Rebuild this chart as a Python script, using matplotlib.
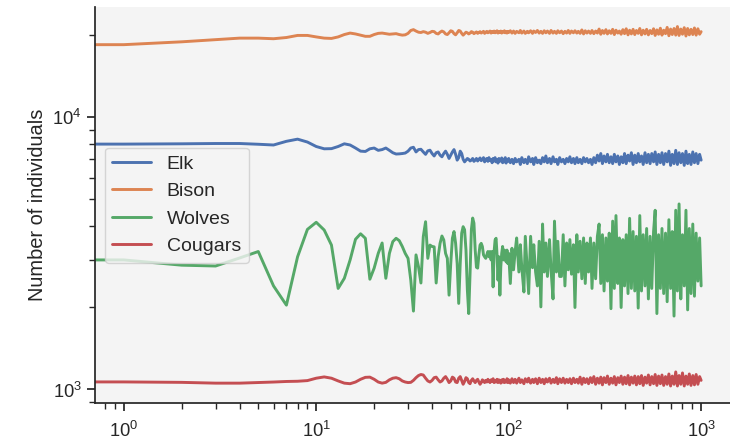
import matplotlib
matplotlib.use("Agg")
import matplotlib.pyplot as plt
import seaborn as sns
from matplotlib.ticker import NullFormatter

# time steps: every step up to 100, then sampled (the band is solid there anyway)
steps = list(range(101)) + [
    102, 104, 106, 108, 110, 113, 115, 117, 120, 122,
    125, 127, 130, 133, 135, 138, 141, 144, 147, 150,
    153, 156, 159, 163, 166, 170, 173, 177, 180, 184,
    188, 192, 196, 200, 204, 208, 212, 217, 221, 226,
    230, 235, 240, 245, 250, 255, 260, 266, 271, 277,
    283, 289, 295, 301, 307, 313, 320, 326, 333, 340,
    347, 354, 361, 369, 376, 384, 392, 400, 408, 417,
    425, 434, 443, 452, 461, 471, 480, 490, 500, 511,
    521, 532, 543, 554, 566, 577, 589, 601, 614, 626,
    639, 653, 666, 680, 694, 708, 723, 738, 753, 768,
    784, 800, 817, 834, 851, 868, 886, 905, 923, 942,
    962, 982, 1000,
]

elk = [
    7960, 7960, 7980, 8000, 8000, 7950, 7900, 8150, 8300, 8100,
    7800, 7650, 7660, 7800, 7980, 7900, 7700, 7500, 7480, 7650,
    7700, 7550, 7600, 7700, 7550, 7400, 7320, 7330, 7350, 7380,
    7500, 7700, 7750, 7450, 7600, 7620, 7450, 7300, 7520, 7560,
    7350, 7200, 7400, 7450, 7250, 7150, 7350, 7500, 7300, 7050,
    7250, 7450, 7600, 7300, 6950, 7100, 7500, 7350, 7000, 6850,
    6950, 7050, 7000, 6900, 6950, 7050, 6880, 6950, 7050, 6900,
    7000, 7080, 6920, 6980, 7100, 6850, 7000, 7050, 6880, 7100,
    6920, 7000, 6800, 7050, 6900, 7100, 6850, 7000, 6780, 7050,
    6880, 6950, 7080, 6800, 7000, 6850, 7100, 6780, 6950, 6880,
    7050,
] + [
    6800, 7000, 6750, 7050, 6850, 7000, 6700, 7100, 6800, 7000,
    6750, 7150, 6850, 7050, 6700, 7100, 6800, 6950, 6750, 7100,
    6850, 7200, 6800, 7050, 6750, 7150, 6850, 7000, 6700, 7100,
    6850, 7000, 6750, 7050, 6850, 7150, 6800, 7050, 6750, 7100,
    6800, 7000, 6750, 7100, 6850, 7050, 6800, 7000, 6700, 7100,
    6800, 7250, 6900, 7350, 6750, 7200, 6850, 7300, 6800, 7150,
    6750, 7300, 6850, 7200, 6700, 7150, 6800, 7350, 6750, 7250,
    6900, 7400, 6700, 7250, 6800, 7350, 6850, 7200, 6700, 7400,
    6800, 7300, 6750, 7350, 6850, 7450, 6700, 7300, 6800, 7400,
    6700, 7350, 6850, 7500, 6650, 7300, 6750, 7550, 6700, 7400,
    6800, 7350, 6650, 7500, 6750, 7300, 6700, 7450, 6800, 7350,
    6750, 7300, 6950,
]

bison = [
    18450, 18450, 18900, 19250, 19500, 19500, 19400, 19600, 19950, 19950,
    19700, 19500, 19450, 19700, 20100, 20350, 20200, 20000, 19800, 19800,
    20100, 20300, 20350, 20250, 20150, 20200, 20250, 20100, 20000, 20050,
    20300, 20800, 20950, 20700, 20500, 20450, 20600, 20500, 20300, 20450,
    20650, 20600, 20300, 20200, 20500, 20700, 20550, 20200, 20100, 20400,
    20750, 20650, 20250, 20050, 20400, 20800, 20700, 20300, 20000, 20250,
    20500, 20400, 20200, 20350, 20600, 20500, 20250, 20400, 20550, 20300,
    20450, 20600, 20350, 20500, 20650, 20300, 20500, 20650, 20400, 20550,
    20700, 20350, 20600, 20450, 20700, 20400, 20550, 20750, 20350, 20600,
    20450, 20700, 20350, 20600, 20500, 20750, 20400, 20600, 20350, 20650,
    20450,
] + [
    20750, 20350, 20700, 20300, 20650, 20400, 20800, 20350, 20700, 20300,
    20650, 20400, 20750, 20300, 20700, 20450, 20800, 20350, 20650, 20300,
    20750, 20400, 20700, 20300, 20800, 20350, 20650, 20300, 20750, 20400,
    20700, 20250, 20650, 20350, 20800, 20300, 20700, 20400, 20750, 20350,
    20650, 20300, 20900, 20200, 20750, 20350, 20700, 20300, 20800, 20250,
    20700, 20350, 21050, 20150, 20800, 20300, 20950, 20200, 20750, 20300,
    21000, 20100, 20850, 20350, 20700, 20150, 20950, 20250, 21100, 20050,
    20850, 20200, 21000, 20100, 20800, 20300, 21150, 20050, 20850, 20200,
    21000, 20050, 20800, 20250, 21100, 19950, 20900, 20150, 21200, 20000,
    20850, 20250, 21350, 19900, 21050, 20100, 21150, 20000, 21500, 19950,
    21050, 20150, 21300, 19850, 21150, 20050, 21000, 20100, 21250, 20000,
    21100, 20150, 20600,
]

wolves = [
    3000, 2990, 2860, 2840, 3040, 3210, 2400, 2040, 3070, 3870,
    4110, 3850, 3390, 2350, 2560, 2990, 3560, 3730, 3590, 2540,
    2790, 3160, 3450, 2560, 3160, 3490, 3590, 3520, 3350, 3160,
    3030, 2520, 1940, 3120, 2820, 2460, 3640, 4130, 3030, 3390,
    3350, 3340, 2460, 3070, 3440, 3660, 3540, 3160, 3030, 2220,
    2900, 3590, 3800, 3440, 2900, 2070, 2900, 3750, 3960, 3860,
    3250, 2320, 1900, 2670, 3860, 4260, 4080, 3250, 2810, 2790,
    3120, 3390, 3440, 3350, 3120, 3070, 3030, 3120, 3210, 3070,
    3210, 2990, 3210, 2380, 3210, 3540, 3590, 3120, 2520, 3070,
    2220, 2820, 3160, 3350, 2990, 3250, 3070, 2940, 3250, 2900,
    3160,
] + [
    2450, 3300, 2750, 3200, 3600, 2700, 3400, 2800, 2280, 3650,
    2700, 2250, 3650, 2800, 3400, 2700, 2400, 3500, 2010, 4050,
    2700, 3450, 2600, 3550, 2750, 2150, 4150, 2700, 3500, 2600,
    2600, 3700, 2400, 3450, 2750, 3550, 2650, 3400, 2000, 3700,
    2700, 3500, 2550, 3600, 2450, 3450, 2700, 3600, 2350, 3450,
    2550, 3650, 4050, 2450, 3700, 2300, 3600, 2500, 3750, 1980,
    4150, 2350, 4350, 2450, 3600, 2000, 3550, 2400, 3700, 2250,
    4250, 2350, 3800, 2300, 3650, 1990, 4350, 2300, 3700, 2400,
    3900, 2150, 3650, 2350, 3800, 4550, 1900, 3700, 2350, 3900,
    2250, 3750, 2100, 4200, 2350, 3800, 1860, 4550, 2300, 4800,
    2150, 3700, 2400, 4550, 1960, 3900, 2250, 4050, 2200, 3750,
    2500, 3600, 2400,
]

cougars = [
    1066, 1066, 1062, 1055, 1055, 1060, 1065, 1070, 1072, 1078,
    1100, 1112, 1100, 1075, 1055, 1050, 1065, 1090, 1108, 1110,
    1090, 1065, 1055, 1062, 1085, 1100, 1105, 1095, 1075, 1065,
    1060, 1062, 1080, 1105, 1125, 1135, 1130, 1100, 1075, 1065,
    1080, 1105, 1110, 1085, 1065, 1075, 1100, 1115, 1090, 1060,
    1075, 1110, 1100, 1065, 1060, 1100, 1115, 1080, 1045, 1070,
    1105, 1095, 1060, 1050, 1080, 1095, 1075, 1060, 1080, 1090,
    1065, 1045, 1060, 1085, 1075, 1060, 1080, 1065, 1090, 1070,
    1060, 1085, 1070, 1095, 1060, 1080, 1065, 1090, 1060, 1085,
    1070, 1055, 1085, 1065, 1090, 1060, 1080, 1065, 1095, 1060,
    1085,
] + [
    1055, 1095, 1060, 1090, 1055, 1100, 1060, 1085, 1050, 1095,
    1065, 1100, 1055, 1090, 1060, 1095, 1050, 1100, 1060, 1090,
    1050, 1095, 1065, 1100, 1055, 1090, 1060, 1105, 1050, 1095,
    1060, 1100, 1055, 1090, 1060, 1095, 1050, 1100, 1060, 1090,
    1055, 1110, 1045, 1100, 1060, 1095, 1050, 1105, 1060, 1115,
    1045, 1100, 1055, 1110, 1040, 1105, 1060, 1120, 1045, 1100,
    1055, 1115, 1040, 1105, 1060, 1120, 1045, 1110, 1050, 1125,
    1040, 1110, 1055, 1120, 1040, 1115, 1050, 1125, 1035, 1110,
    1055, 1130, 1040, 1115, 1050, 1135, 1035, 1120, 1050, 1130,
    1035, 1115, 1045, 1140, 1030, 1120, 1045, 1160, 1030, 1125,
    1045, 1150, 1030, 1120, 1045, 1140, 1035, 1125, 1040, 1135,
    1045, 1115, 1080,
]

species = ["Elk", "Bison", "Wolves", "Cougars"]

sns.set_theme(style="ticks", font_scale=1.2, rc={"axes.facecolor": "#f4f4f4"})
plt.rcParams["font.family"] = ["Liberation Sans", "DejaVu Sans"]

fig = plt.figure(figsize=(7.3, 4.43), dpi=100)
ax = fig.add_axes([0.130, 0.090, 0.870, 0.894])
for name, counts in zip(species, [elk, bison, wolves, cougars]):
    ax.plot(steps, counts, label=name, lw=2.1)
ax.set_xscale("log")
ax.set_yscale("log")
ax.set_xlim(10 ** -0.15, 10 ** 3.15)
ax.set_ylim(891, 25350)
ax.yaxis.set_minor_formatter(NullFormatter())
ax.tick_params(axis="x", which="major", pad=7)
ax.set_ylabel("Number of individuals")
ax.legend(loc="center left", fontsize=14)
sns.despine(ax=ax)
fig.savefig("out.png", dpi=100)
plt.close(fig)
